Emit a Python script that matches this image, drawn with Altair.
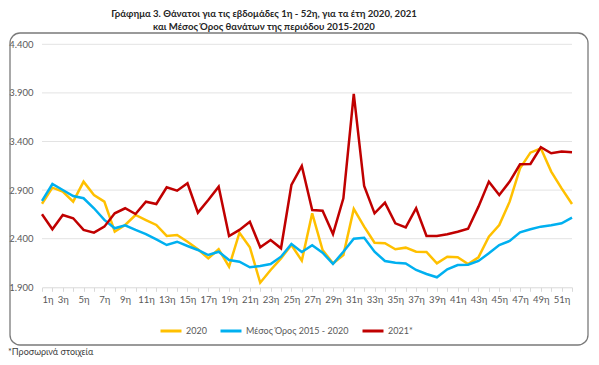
import altair as alt
import pandas as pd

weeks = list(range(1, 53))
deaths_2020 = [2760, 2925, 2884, 2781, 2987, 2850, 2781, 2472, 2541, 2644,
               2592, 2541, 2428, 2438, 2369, 2291, 2198, 2291, 2112, 2462,
               2312, 1947, 2078, 2198, 2335, 2174, 2661, 2284, 2146, 2232,
               2706, 2524, 2359, 2353, 2291, 2308, 2266, 2263, 2146, 2215,
               2209, 2140, 2209, 2421, 2541, 2781, 3124, 3285, 3330, 3090,
               2918, 2757]
deaths_avg = [2790, 2963, 2901, 2839, 2816, 2713, 2593, 2507, 2538, 2490,
              2448, 2394, 2335, 2369, 2325, 2284, 2232, 2266, 2181, 2163,
              2106, 2119, 2140, 2215, 2346, 2263, 2332, 2256, 2140, 2266,
              2400, 2410, 2266, 2171, 2153, 2146, 2078, 2037, 2003, 2085,
              2129, 2133, 2171, 2250, 2335, 2376, 2466, 2497, 2524, 2538,
              2558, 2616]
deaths_2021 = [2651, 2497, 2644, 2610, 2490, 2462, 2524, 2661, 2713, 2654,
               2781, 2757, 2929, 2894, 2970, 2668, 2798, 2935, 2428, 2490,
               2575, 2312, 2387, 2301, 2953, 3148, 2695, 2688, 2448, 2816,
               3889, 2942, 2661, 2771, 2558, 2517, 2713, 2428, 2428, 2445,
               2472, 2503, 2730, 2987, 2850, 2987, 3165, 3169, 3341, 3279,
               3296, 3289]

series_names = ["2020", "Μέσος Όρος 2015 - 2020", "2021*"]
series_colors = ["#FFC000", "#00B0F0", "#C00000"]
y_ticks = [1900, 2400, 2900, 3400, 3900, 4400]
title_lines = ["Γράφημα 3. Θάνατοι για τις εβδομάδες 1η - 52η, για τα έτη 2020, 2021",
               "και Μέσος Όρος θανάτων της περιόδου 2015-2020"]
footnote = "*Προσωρινά στοιχεία"

rows = []
for name, vals in zip(series_names, [deaths_2020, deaths_avg, deaths_2021]):
    for w, v in zip(weeks, vals):
        rows.append({"week": w, "deaths": v, "series": name})
df = pd.DataFrame(rows)

grid_df = pd.DataFrame({"v": y_ticks[1:], "x0": [weeks[0]] * 5, "x1": [weeks[-1]] * 5})

FONT = "Lato"
W, H = 578, 312
x_scale = alt.Scale(domain=[1, 52], range=[32, 562], nice=False, zero=False)
y_scale = alt.Scale(domain=[1900, 4400], range=[254.3, 11.3], nice=False, zero=False)

x_axis = alt.Axis(
    title=None, values=weeks, offset=-57.7, grid=False,
    domain=True, domainColor="#d9d9d9", domainWidth=1,
    ticks=True, tickColor="#d9d9d9", tickSize=4,
    labelExpr="datum.value % 2 == 1 ? datum.value + 'η' : ''",
    labelFontSize=9.5, labelColor="#595959", labelPadding=3, labelFont=FONT,
    labelOverlap=False,
)
y_axis = alt.Axis(
    title=None, values=y_ticks, offset=-32, grid=False, domain=False, ticks=False,
    labelExpr="replace(format(datum.value, ',d'), ',', '.')",
    labelFontSize=9.5, labelColor="#595959", labelPadding=9, labelFont=FONT,
)

frame = alt.Chart(pd.DataFrame({"f": [0]})).mark_rect(
    fillOpacity=0, strokeWidth=1.3, cornerRadius=10
).encode(
    x=alt.value(0), x2=alt.value(W), y=alt.value(0), y2=alt.value(H),
    stroke=alt.value("#7a7a7a"),
)

grid = alt.Chart(grid_df).mark_rule(color="#e3e3e3", strokeWidth=1).encode(
    x=alt.X("x0:Q", scale=x_scale, axis=x_axis),
    x2="x1:Q",
    y=alt.Y("v:Q", scale=y_scale, axis=y_axis),
)

lines = alt.Chart(df).mark_line(strokeWidth=2.5).encode(
    x=alt.X("week:Q", scale=x_scale, axis=x_axis),
    y=alt.Y("deaths:Q", scale=y_scale, axis=y_axis),
    color=alt.Color(
        "series:N",
        scale=alt.Scale(domain=series_names, range=series_colors),
        sort=series_names,
        legend=alt.Legend(
            title=None, orient="none", direction="horizontal",
            legendX=149, legendY=286, symbolType="stroke",
            symbolSize=441, symbolStrokeWidth=3, labelFontSize=9,
            labelColor="#595959", labelFont=FONT, columnPadding=7,
            labelOffset=3,
        ),
    ),
)

note = alt.Chart(pd.DataFrame({"t": [footnote]})).mark_text(
    align="left", baseline="middle", fontSize=9, color="#404040", font=FONT
).encode(text="t:N", x=alt.value(-2), y=alt.value(319))

chart = alt.layer(frame, grid, lines, note).properties(
    width=W, height=H,
    padding={"left": 0, "top": 0, "right": 0, "bottom": 0},
    title=alt.TitleParams(
        text=title_lines, anchor="middle", dx=-35, fontSize=9.6, font=FONT,
        fontWeight="bold", color="#262626", offset=1, lineHeight=13,
    ),
).configure_view(strokeWidth=0)

chart.save("out.html", embed_options={"renderer": "svg", "actions": False})
